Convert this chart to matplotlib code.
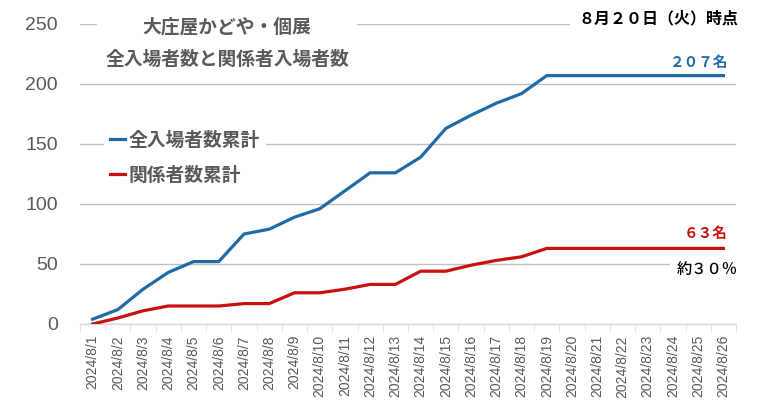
import matplotlib
matplotlib.use("Agg")
import matplotlib.pyplot as plt
from matplotlib.lines import Line2D

plt.rcParams['font.family'] = ['Noto Sans CJK JP', 'DejaVu Sans']

dates = [f"2024/8/{d}" for d in range(1, 27)]
total_cum = [4, 12, 29, 43, 52, 52, 75, 79, 89, 96, 111, 126, 126, 139, 163, 174,
             184, 192, 207, 207, 207, 207, 207, 207, 207, 207]
related_cum = [0, 5, 11, 15, 15, 15, 17, 17, 26, 26, 29, 33, 33, 44, 44, 49,
               53, 56, 63, 63, 63, 63, 63, 63, 63, 63]
series_names = ["全入場者数累計", "関係者数累計"]
title_text = "大庄屋かどや・個展\n全入場者数と関係者入場者数"
asof_text = "８月２０日（火）時点"
total_label = "２０７名"
related_label = "６３名"
ratio_label = "約３０％"

blue = "#1F6BA6"
red = "#C81010"
gray_text = "#595959"

fig = plt.figure(figsize=(7.6, 4.03), dpi=100)
ax = fig.add_axes([80/760, 1-324/403, (736-80)/760, 300/403])

x = list(range(len(dates)))
ax.plot(x, total_cum, color=blue, lw=2.3, solid_joinstyle='round', zorder=3)
ax.plot(x, related_cum, color=red, lw=2.3, solid_joinstyle='round', zorder=3)

ax.set_xlim(-0.5, len(dates) - 0.5)
ax.set_ylim(0, 250)
ax.set_yticks([0, 50, 100, 150, 200, 250])
ax.yaxis.grid(True, color="#BFBFBF", lw=1.0, zorder=0)
ax.set_axisbelow(True)
for s in ["top", "right", "left"]:
    ax.spines[s].set_visible(False)
ax.spines["bottom"].set_color("#D9D9D9")
ax.spines["bottom"].set_linewidth(1.0)
ax.tick_params(axis='y', length=0, labelsize=14, labelcolor=gray_text, pad=16)
for lab in ax.get_yticklabels():
    lab.set_family(['Liberation Sans', 'DejaVu Sans'])

ax.set_xticks(x)
ax.set_xticklabels(dates, rotation=90, fontsize=10, color=gray_text,
                   family=['Liberation Sans', 'DejaVu Sans'])
ax.set_xticks([i - 0.5 for i in range(len(dates) + 1)], minor=True)
ax.tick_params(axis='x', which='major', length=0, pad=8)
ax.tick_params(axis='x', which='minor', length=5, color="#D9D9D9")

# Title
fig.text(227/760, 1-43/403, title_text, ha='center', va='center', fontsize=13.5,
         fontweight='bold', color=gray_text, linespacing=1.9,
         bbox=dict(facecolor='white', edgecolor='none', pad=6), zorder=5)

# As-of annotation
fig.text(738/760, 1-18/403, asof_text, ha='right', va='center', fontsize=11.5,
         fontweight='bold', color='black',
         bbox=dict(facecolor='white', edgecolor='none', pad=6), zorder=5)

fig.text(728/760, 1-62/403, total_label, ha='right', va='center', fontsize=10.5,
         fontweight='bold', color=blue)
fig.text(728/760, 1-233/403, related_label, ha='right', va='center', fontsize=10.5,
         fontweight='bold', color=red)
fig.text(738/760, 1-269/403, ratio_label, ha='right', va='center', fontsize=11,
         fontweight='medium', color='black',
         bbox=dict(facecolor='white', edgecolor='none', pad=5), zorder=5)

handles = [Line2D([], [], color=blue, lw=2.3), Line2D([], [], color=red, lw=2.3)]
leg = fig.legend(handles, series_names, loc='upper left',
                 bbox_to_anchor=(95/760, 1-116/403), fontsize=13.5,
                 handlelength=0.8, handletextpad=0.2, labelspacing=0.85,
                 frameon=True, facecolor='white', edgecolor='none', framealpha=1,
                 borderpad=0.3)
for t in leg.get_texts():
    t.set_color(gray_text)
    t.set_fontweight('bold')

fig.savefig("out.png", dpi=100)
